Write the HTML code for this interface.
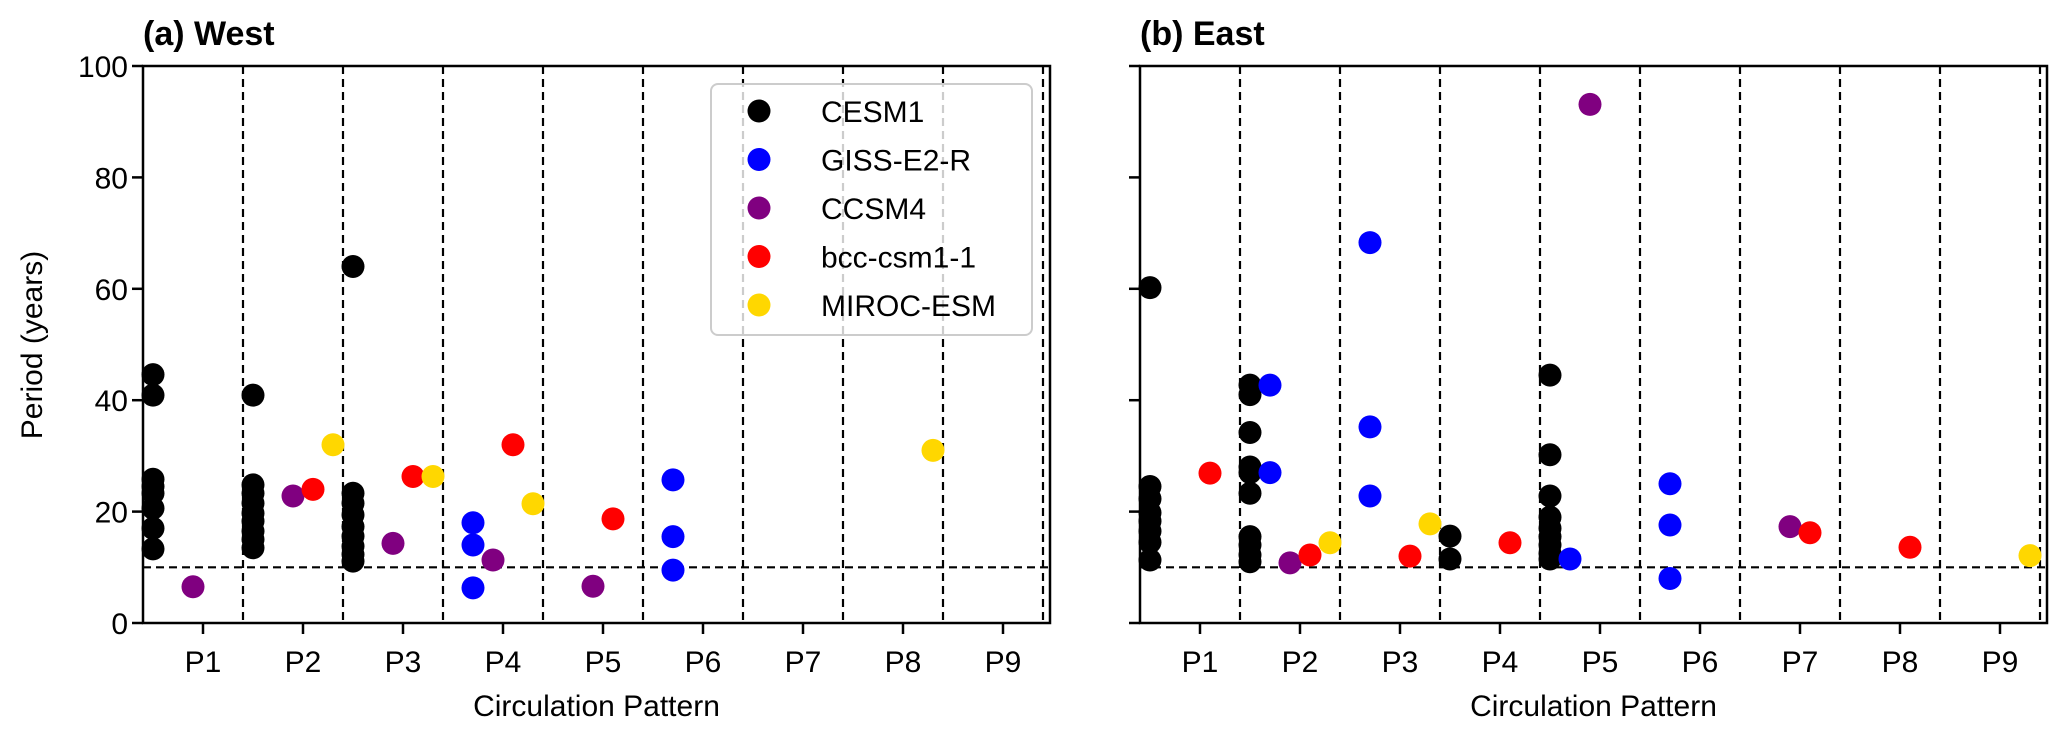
<!DOCTYPE html>
<html><head><meta charset="utf-8"><style>
body{margin:0;background:#fff}
svg{display:block;font-family:"Liberation Sans",Arial,sans-serif}
</style></head><body>
<svg id="chart" width="2067" height="734" viewBox="0 0 2067 734" xmlns="http://www.w3.org/2000/svg"></svg>
<script>
const categories = ["P1","P2","P3","P4","P5","P6","P7","P8","P9"];
const models = ["CESM1","GISS-E2-R","CCSM4","bcc-csm1-1","MIROC-ESM"];
const modelColors = ["#000000","#0000ff","#800080","#ff0000","#ffd700"];
const yTicks = [0,20,40,60,80,100];
// West panel: per model, [categoryIndex, period]
const westCESM1 = [[0,44.6],[0,40.9],[0,25.8],[0,24.5],[0,23.3],[0,20.6],[0,17.0],[0,13.3],
  [1,40.9],[1,24.8],[1,23.3],[1,21.5],[1,19.7],[1,18.3],[1,16.5],[1,15.0],[1,13.5],
  [2,64.0],[2,23.3],[2,21.5],[2,19.4],[2,17.3],[2,15.6],[2,13.8],[2,12.3],[2,11.1]];
const westGISS = [[3,18.0],[3,14.0],[3,6.3],[5,25.7],[5,15.5],[5,9.5]];
const westCCSM4 = [[0,6.5],[1,22.8],[2,14.3],[3,11.3],[4,6.6]];
const westBCC = [[1,24.0],[2,26.3],[3,32.0],[4,18.7]];
const westMIROC = [[1,32.0],[2,26.3],[3,21.4],[7,31.0]];
// East panel
const eastCESM1 = [[0,60.2],[0,24.5],[0,22.3],[0,19.8],[0,18.3],[0,16.5],[0,14.5],[0,11.3],
  [1,42.7],[1,41.0],[1,34.2],[1,28.0],[1,27.0],[1,23.3],[1,15.5],[1,14.0],[1,12.2],[1,11.0],
  [3,15.6],[3,11.5],
  [4,44.5],[4,30.2],[4,22.8],[4,19.0],[4,17.0],[4,15.5],[4,14.0],[4,12.5],[4,11.5]];
const eastGISS = [[1,42.7],[1,27.0],[2,68.3],[2,35.2],[2,22.8],[4,11.5],[5,25.0],[5,17.6],[5,8.0]];
const eastCCSM4 = [[1,10.8],[4,93.1],[6,17.3]];
const eastBCC = [[0,26.9],[1,12.2],[2,12.0],[3,14.4],[6,16.2],[7,13.6]];
const eastMIROC = [[1,14.4],[2,17.8],[8,12.1]];
const modelOffsets = [-0.5,-0.3,-0.1,0.1,0.3];
const thresholdValue = 10;

const NS="http://www.w3.org/2000/svg";
const svg=document.getElementById('chart');
function el(tag,attrs,parent){const e=document.createElementNS(NS,tag);for(const k in attrs)e.setAttribute(k,attrs[k]);(parent||svg).appendChild(e);return e;}
const X0=-0.6,X1=8.47,PXU=100,Y_TOP=66,Y_BOT=623;
function yScale(v){return Y_BOT-(v/100)*(Y_BOT-Y_TOP);}

function panel(left,title,seriesList,showYLabels,key){
  const xScale=c=>left+(c-X0)*PXU;
  const right=xScale(X1);
  const g=el('g',{});
  
  
  // dashed separators
  for(let i=0;i<categories.length;i++){
    const l=el('line',{x1:xScale(i+0.4),x2:xScale(i+0.4),y1:Y_TOP,y2:Y_BOT,stroke:'#000','stroke-width':2.2,'stroke-dasharray':'8,5'},g);
    
    
  }
  const th=el('line',{x1:left,x2:right,y1:yScale(thresholdValue),y2:yScale(thresholdValue),stroke:'#000','stroke-width':2.2,'stroke-dasharray':'8,5'},g);
  
  
  // points
  seriesList.forEach((s,mi)=>{
    s.forEach(p=>{
      const c=el('circle',{cx:xScale(p[0]+modelOffsets[mi]),cy:yScale(p[1]),r:11.5,fill:modelColors[mi]},g);
      
      
    });
  });
  // frame
  const fr=el('rect',{x:left,y:Y_TOP,width:right-left,height:Y_BOT-Y_TOP,fill:'none',stroke:'#000','stroke-width':2.5},g);
  
  
  // y ticks
  yTicks.forEach(t=>{
    el('line',{x1:left-11,x2:left,y1:yScale(t),y2:yScale(t),stroke:'#000','stroke-width':2.5},g);
    if(showYLabels){
      const tx=el('text',{x:left-15,y:yScale(t)+11,'text-anchor':'end','font-size':30},g);
      tx.textContent=t;
      
      
    }
  });
  // x ticks
  categories.forEach((c,i)=>{
    el('line',{x1:xScale(i),x2:xScale(i),y1:Y_BOT,y2:Y_BOT+11,stroke:'#000','stroke-width':2.5},g);
    const tx=el('text',{x:xScale(i),y:672,'text-anchor':'middle','font-size':30},g);
    tx.textContent=c;
    
    
  });
  const xl=el('text',{x:(left+right)/2,y:716,'text-anchor':'middle','font-size':30},g);
  xl.textContent='Circulation Pattern';
  
  
  const tt=el('text',{x:left,y:45,'font-size':34,'font-weight':'bold'},g);
  tt.textContent=title;
  
  
}
panel(143,'(a) West',[westCESM1,westGISS,westCCSM4,westBCC,westMIROC],true,'west');
panel(1140,'(b) East',[eastCESM1,eastGISS,eastCCSM4,eastBCC,eastMIROC],false,'east');

const yl=el('text',{x:0,y:0,'text-anchor':'middle','font-size':30,transform:'translate(42,345) rotate(-90)'});
yl.textContent='Period (years)';



// legend
const lg=el('g',{});


el('rect',{x:711,y:84,width:321,height:251,rx:7,fill:'#fff','fill-opacity':0.8,stroke:'#cccccc','stroke-width':2},lg);
models.forEach((m,i)=>{
  const cy=111+i*48.5;
  const e=el('g',{},lg);
  
  
  el('circle',{cx:759,cy:cy,r:11.5,fill:modelColors[i]},e);
  const t=el('text',{x:821,y:cy+11,'font-size':30},e);
  t.textContent=m;
});
</script>
</body></html>
